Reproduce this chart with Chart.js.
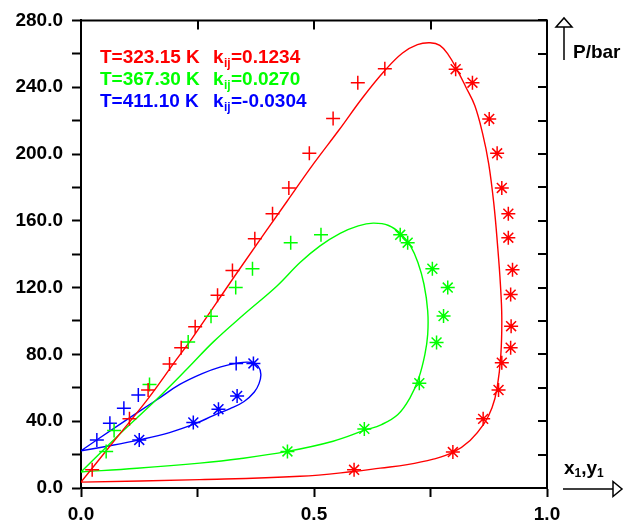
<!DOCTYPE html>
<html>
<head>
<meta charset="utf-8">
<script src="https://cdn.jsdelivr.net/npm/chart.js@4.4.1/dist/chart.umd.min.js"></script>
<style>
  body { margin: 0; background: #fff; }
  #wrap { width: 626px; height: 530px; }
</style>
</head>
<body>
<div id="wrap"><canvas id="grafico" width="626" height="530"></canvas></div>
<script>
// ticks de los ejes
const ticksX = [0, 0.25, 0.5, 0.75, 1.0];
const etiquetasX = ['0.0', '', '0.5', '', '1.0'];
const etiquetasY = ['0.0', '', '40.0', '', '80.0', '', '120.0', '', '160.0', '', '200.0', '', '240.0', '', '280.0'];

// leyenda: temperatura y kij de cada isoterma
const temperaturas = ['T=323.15 K', 'T=367.30 K', 'T=411.10 K'];
const kij = ['=0.1234', '=0.0270', '=-0.0304'];
const colores = ['#ff0000', '#00ff00', '#0000ff'];

// puntos experimentales [x1 o y1, P/bar]  (+ = liquido, * = vapor)
const rojoLiq = [[0.024, 10.9], [0.104, 41.5], [0.144, 58.7], [0.190, 74.2], [0.215, 84.0], [0.245, 96.5], [0.293, 115.4], [0.325, 130.3], [0.373, 149.2], [0.411, 164.2], [0.446, 179.7], [0.490, 200.4], [0.541, 221.3], [0.594, 242.7], [0.652, 251.1]];
const rojoVap = [[0.586, 10.9], [0.798, 21.5], [0.863, 41.4], [0.896, 58.7], [0.903, 75.0], [0.922, 84.0], [0.923, 96.9], [0.922, 115.8], [0.926, 130.7], [0.917, 149.9], [0.917, 164.2], [0.903, 179.7], [0.893, 200.4], [0.876, 221.0], [0.840, 242.7], [0.804, 250.8]];
const verdeLiq = [[0.054, 21.9], [0.071, 34.5], [0.147, 62.0], [0.230, 87.5], [0.279, 102.9], [0.332, 120.0], [0.368, 131.3], [0.450, 146.9], [0.515, 151.6]];
const verdeVap = [[0.443, 21.9], [0.608, 35.4], [0.726, 62.7], [0.763, 87.2], [0.778, 103.0], [0.787, 120.0], [0.754, 131.3], [0.701, 146.9], [0.685, 151.6]];
const azulLiq = [[0.034, 28.8], [0.062, 38.8], [0.092, 47.8], [0.123, 55.7], [0.333, 74.6]];
const azulVap = [[0.125, 28.8], [0.241, 39.2], [0.295, 47.2], [0.335, 55.1], [0.370, 74.6]];

// curvas calculadas (burbuja -> punto critico -> rocio)
const rojoCurva = [[0, 3.5], [0.072, 28.5], [0.144, 53.5], [0.205, 77.0], [0.238, 89.5], [0.340, 131.0], [0.443, 172.0], [0.500, 194.5], [0.554, 214.5], [0.605, 234.0], [0.652, 250.0], [0.690, 260.5], [0.722, 265.5], [0.749, 266.6], [0.770, 265.0], [0.788, 259.5], [0.806, 251.0], [0.826, 240.0], [0.845, 229.0], [0.862, 212.0], [0.875, 194.0], [0.886, 170.0], [0.894, 145.0], [0.900, 122.0], [0.903, 102.0], [0.901, 80.0], [0.893, 60.0], [0.882, 48.0], [0.865, 38.5], [0.835, 28.5], [0.798, 21.3], [0.756, 17.3], [0.700, 14.0], [0.642, 11.9], [0.586, 9.9], [0.470, 7.0], [0.255, 5.0], [0, 3.5]];
const verdeCurva = [[0, 9.6], [0.080, 31.5], [0.162, 53.0], [0.230, 72.0], [0.284, 87.5], [0.350, 104.0], [0.420, 120.8], [0.470, 135.0], [0.513, 145.0], [0.556, 152.5], [0.595, 157.0], [0.627, 158.6], [0.660, 157.2], [0.687, 152.0], [0.707, 145.0], [0.723, 135.0], [0.736, 122.0], [0.744, 106.0], [0.744, 92.0], [0.738, 80.0], [0.725, 66.0], [0.706, 54.0], [0.680, 44.0], [0.645, 38.0], [0.608, 34.5], [0.541, 28.0], [0.443, 21.9], [0.340, 17.5], [0.255, 14.9], [0.120, 11.8], [0, 9.6]];
const azulCurva = [[0, 22.3], [0.080, 37.5], [0.162, 52.7], [0.212, 62.0], [0.260, 68.5], [0.300, 72.5], [0.335, 74.8], [0.365, 75.2], [0.380, 73.0], [0.386, 68.0], [0.382, 62.5], [0.372, 57.5], [0.350, 51.8], [0.320, 47.5], [0.285, 43.5], [0.245, 38.5], [0.190, 33.2], [0.125, 28.8], [0.062, 25.3], [0, 22.3]];

const FUENTE = "'Liberation Sans', Arial, sans-serif";
const aPuntos = arr => arr.map(p => ({ x: p[0], y: p[1] }));

function curva(datos, color) {
    return {
        data: aPuntos(datos), showLine: true, borderColor: color, borderWidth: 1.4,
        pointRadius: 0, tension: 0.4, fill: false
    };
}
function puntos(datos, color, estilo) {
    return {
        data: aPuntos(datos), showLine: false, borderColor: color, backgroundColor: color,
        pointStyle: estilo, pointRadius: 7, pointBorderWidth: 1.5
    };
}

// marco superior/derecho con ticks hacia dentro, leyenda y titulos de ejes
const extras = {
    id: 'extras',
    afterDraw(chart) {
        const ctx = chart.ctx;
        const a = chart.chartArea;
        const sx = chart.scales.x, sy = chart.scales.y;
        ctx.save();
        ctx.strokeStyle = '#000';
        ctx.lineWidth = 2;
        ctx.beginPath();
        ctx.moveTo(a.left, a.top); ctx.lineTo(a.right, a.top); ctx.lineTo(a.right, a.bottom);
        sx.ticks.forEach(t => {
            const px = Math.round(sx.getPixelForValue(t.value));
            ctx.moveTo(px, a.top); ctx.lineTo(px, a.top + 9);
        });
        sy.ticks.forEach(t => {
            const py = Math.round(sy.getPixelForValue(t.value));
            ctx.moveTo(a.right - 9, py); ctx.lineTo(a.right, py);
        });
        ctx.stroke();

        // leyenda
        ctx.textBaseline = 'alphabetic';
        temperaturas.forEach((t, i) => {
            const y = 63 + i * 22;
            ctx.fillStyle = colores[i];
            ctx.font = 'bold 19px ' + FUENTE;
            ctx.fillText(t, 100, y);
            ctx.fillText('k', 213, y);
            ctx.font = 'bold 12px ' + FUENTE;
            ctx.fillText('ij', 224, y + 4);
            ctx.font = 'bold 19px ' + FUENTE;
            ctx.fillText(kij[i], 231, y);
        });

        // titulo eje y con flecha
        ctx.fillStyle = '#000';
        ctx.lineWidth = 1.5;
        ctx.beginPath();
        ctx.moveTo(564, 60); ctx.lineTo(564, 27);
        ctx.moveTo(556, 27); ctx.lineTo(564, 18); ctx.lineTo(572, 27); ctx.closePath();
        ctx.stroke();
        ctx.font = 'bold 19px ' + FUENTE;
        ctx.fillText('P/bar', 573, 58);

        // titulo eje x con flecha
        ctx.beginPath();
        ctx.moveTo(563, 489); ctx.lineTo(613, 489);
        ctx.moveTo(613, 481.5); ctx.lineTo(622, 489); ctx.lineTo(613, 496.5); ctx.closePath();
        ctx.stroke();
        let x = 564;
        ctx.font = 'bold 19px ' + FUENTE;
        ctx.fillText('x', x, 474); x += ctx.measureText('x').width;
        ctx.font = 'bold 12px ' + FUENTE;
        ctx.fillText('1', x, 477); x += ctx.measureText('1').width;
        ctx.font = 'bold 19px ' + FUENTE;
        ctx.fillText(',y', x, 474); x += ctx.measureText(',y').width;
        ctx.font = 'bold 12px ' + FUENTE;
        ctx.fillText('1', x, 477);
        ctx.restore();
    }
};

new Chart(document.getElementById('grafico'), {
    type: 'scatter',
    data: {
        datasets: [
            puntos(rojoLiq, colores[0], 'cross'), puntos(rojoVap, colores[0], 'star'),
            puntos(verdeLiq, colores[1], 'cross'), puntos(verdeVap, colores[1], 'star'),
            puntos(azulLiq, colores[2], 'cross'), puntos(azulVap, colores[2], 'star'),
            curva(rojoCurva, colores[0]), curva(verdeCurva, colores[1]), curva(azulCurva, colores[2])
        ]
    },
    options: {
        responsive: false,
        animation: false,
        layout: { padding: { top: 19, right: 79, left: 0, bottom: 0 } },
        plugins: { legend: { display: false }, tooltip: { enabled: false } },
        scales: {
            x: {
                type: 'linear', min: 0, max: 1,
                afterBuildTicks: s => { s.ticks = ticksX.map(v => ({ value: v })); },
                afterFit: s => { s.height = 42; },
                grid: { drawOnChartArea: false, tickLength: 9, tickColor: '#000', tickWidth: 2 },
                border: { color: '#000', width: 2 },
                ticks: {
                    autoSkip: false, maxRotation: 0, padding: 6, color: '#000',
                    font: { family: FUENTE, size: 19, weight: 'bold' },
                    callback: (v, i) => etiquetasX[i]
                }
            },
            y: {
                type: 'linear', min: 0, max: 280,
                afterFit: s => { s.width = 81; },
                grid: { drawOnChartArea: false, tickLength: 9, tickColor: '#000', tickWidth: 2 },
                border: { color: '#000', width: 2 },
                ticks: {
                    stepSize: 20, autoSkip: false, padding: 9, color: '#000',
                    font: { family: FUENTE, size: 19, weight: 'bold' },
                    callback: (v, i) => etiquetasY[i]
                }
            }
        }
    },
    plugins: [extras]
});
</script>
</body>
</html>
